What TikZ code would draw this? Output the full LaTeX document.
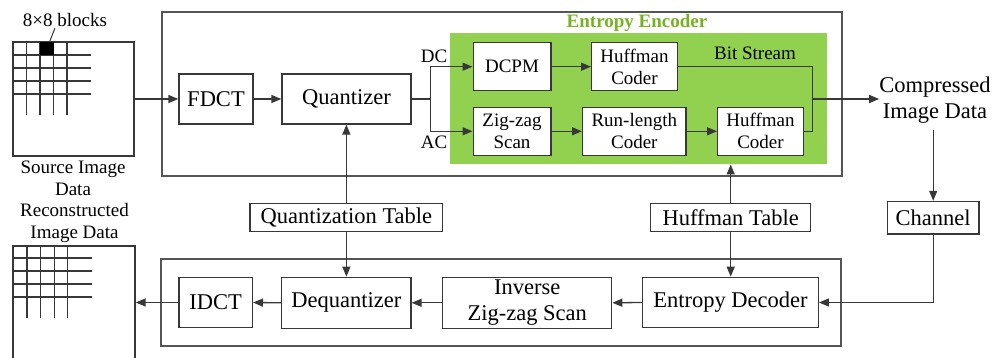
\documentclass[tikz,border=0pt]{standalone}
\usepackage{fontspec}
\setmainfont{Liberation Serif}
\usetikzlibrary{arrows.meta}
\definecolor{ln}{HTML}{383838}
\definecolor{fr}{HTML}{555555}
\definecolor{grn}{RGB}{146,208,80}
\definecolor{grntxt}{RGB}{118,178,34}
\newcommand\bigtxt{\fontsize{22.5}{25.5}\selectfont}
\newcommand\smtxt{\fontsize{19}{22}\selectfont}
\begin{document}
\begin{tikzpicture}[x=1pt,y=-1pt,
  box/.style={draw=ln, line width=1.3pt, fill=white, inner sep=0pt, align=center, font=\bigtxt},
  sbox/.style={box, font=\smtxt},
  frame/.style={draw=fr, line width=1.5pt, inner sep=0pt},
  grid/.style={draw=ln, line width=1.3pt},
  conn/.style={draw=ln, line width=1.3pt},
  arr/.style={conn, -{Triangle[length=10pt,width=8pt]}},
  lbl/.style={inner sep=0pt, align=center, font=\smtxt}]
\useasboundingbox (0,0) rectangle (994,358);
\clip (0,0) rectangle (994,358);
% frames
\node[frame, minimum width=680pt, minimum height=164pt] (enc) at (502,94) {};
\node[frame, minimum width=680pt, minimum height=87pt] (dec) at (501,302.5) {};
\node[fill=grn, inner sep=0pt, minimum width=377pt, minimum height=131pt] (green) at (638,98.8) {};
\node[inner sep=0pt, text=grntxt, font=\smtxt\bfseries] (enclbl) at (637,23) {Entropy Encoder};
% source image
\node[box, minimum width=121pt, minimum height=114pt] (src) at (73.5,99) {};
\foreach \x in {26.5,40,53.5,67} \draw[grid] (\x,42) -- (\x,115);
\foreach \y in {55,68,81,94} \draw[grid] (13,\y) -- (91,\y);
\fill[black] (40,42) rectangle (53.5,55);
\node[lbl] (blk) at (65,20) {8×8 blocks};
\coordinate (blkpt) at (49.5,42);
\draw[conn, line width=1pt] (blkpt) -- (55,28);
\node[lbl] (srclbl) at (73,178) {Source Image\\Data};
% reconstructed image
\node[lbl] (reclbl) at (74.5,222.5) {Reconstructed\\Image Data};
\node[box, minimum width=122pt, minimum height=134pt] (rec) at (74,313) {};
\foreach \x in {27,40.7,54.3,67.7} \draw[grid] (\x,246) -- (\x,318);
\foreach \y in {258,271,284,297} \draw[grid] (13,\y) -- (91.7,\y);
% encoder boxes
\node[box, minimum width=74pt, minimum height=50pt] (fdct) at (216,99) {FDCT};
\node[box, minimum width=129pt, minimum height=50pt] (quant) at (346.5,99) {Quantizer};
\node[sbox, minimum width=77.7pt, minimum height=48pt] (dcpm) at (512,66.7) {DCPM};
\node[sbox, minimum width=85.6pt, minimum height=48pt] (huf1) at (634.5,66.7) {Huffman\\Coder};
\node[sbox, minimum width=77.7pt, minimum height=48pt] (zig) at (512,131.3) {Zig-zag\\Scan};
\node[sbox, minimum width=103.3pt, minimum height=48pt] (rl) at (634.3,131.3) {Run-length\\Coder};
\node[sbox, minimum width=85.6pt, minimum height=48pt] (huf2) at (760.5,131.3) {Huffman\\Coder};
\node[lbl] (dclbl) at (434,56.5) {DC};
\node[lbl] (aclbl) at (434,142.5) {AC};
\node[lbl] (bslbl) at (755,53) {Bit Stream};
\node[inner xsep=0pt, inner ysep=7pt, align=center, font=\bigtxt] (comp) at (935,100) {Compressed\\Image Data};
% tables, channel
\node[box, minimum width=192.7pt, minimum height=28.4pt] (qt) at (346.4,217.5) {Quantization Table};
\node[box, minimum width=160pt, minimum height=28.4pt] (ht) at (730.7,217.5) {Huffman Table};
\node[box, minimum width=91.5pt, minimum height=32.5pt] (chan) at (933.2,217.7) {Channel};
% decoder boxes
\node[box, minimum width=175.6pt, minimum height=50.4pt] (ed) at (730.5,302.5) {Entropy Decoder};
\node[box, minimum width=169pt, minimum height=51pt] (iz) at (527.2,302.8) {Inverse\\Zig-zag Scan};
\node[box, minimum width=129.3pt, minimum height=51pt] (dq) at (346.3,302.8) {Dequantizer};
\node[box, minimum width=73.3pt, minimum height=50.4pt] (idct) at (215.7,302.5) {IDCT};
% connectors
\draw[arr] (src.east) -- (fdct.west);
\draw[arr] (fdct.east) -- (quant.west);
\coordinate (split) at (430.7,99);
\draw[conn] (quant.east) -- (split);
\draw[arr] (split) |- (dcpm.west);
\draw[arr] (split) |- (zig.west);
\draw[arr] (dcpm.east) -- (huf1.west);
\draw[arr] (zig.east) -- (rl.west);
\draw[arr] (rl.east) -- (huf2.west);
\coordinate (bs) at (812.3,99);
\draw[conn] (huf1.east) -| (bs) |- (huf2.east);
\draw[arr] (bs) -- (bs -| comp.west);
\draw[arr] (chan.north |- comp.south) -- (chan.north);
\draw[arr] (chan.south) |- (ed.east);
\draw[arr] (ed.west) -- (iz.east);
\draw[arr] (iz.west) -- (dq.east);
\draw[arr] (dq.west) -- (idct.east);
\draw[arr] (idct.west) -- (idct.west -| rec.east);
\draw[arr] (qt.north) -- (qt.north |- quant.south);
\draw[arr] (qt.south) -- (qt.south |- dq.north);
\draw[arr] (ht.north) -- (ht.north |- green.south);
\draw[arr] (ht.south) -- (ht.south |- ed.north);
\end{tikzpicture}
\end{document}
